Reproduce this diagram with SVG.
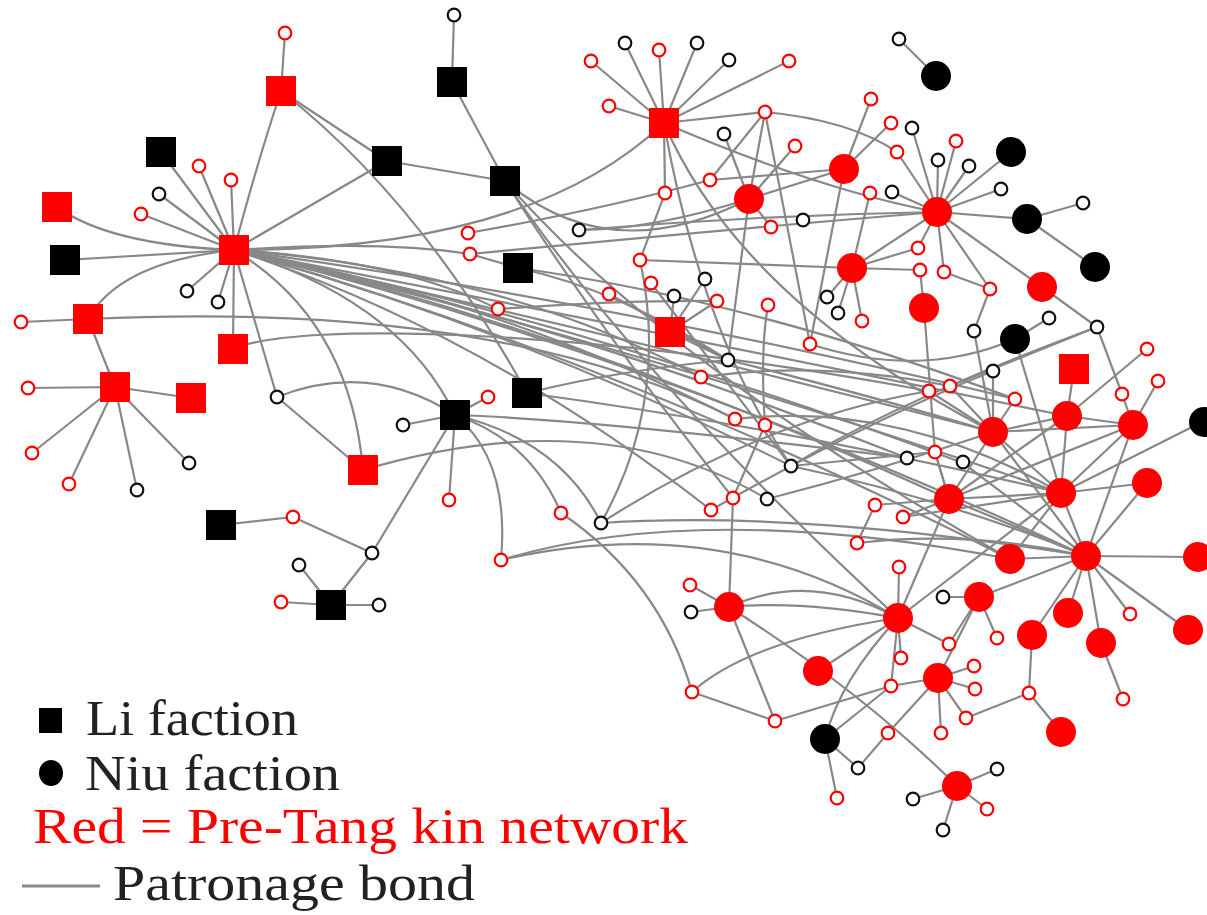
<svg xmlns="http://www.w3.org/2000/svg" width="1207" height="915" viewBox="0 0 1207 915">
<style>
.e{fill:none;stroke:#888;stroke-width:2.2}
.rs{fill:#fff;stroke:#f00;stroke-width:2.2}
.bs{fill:#fff;stroke:#111;stroke-width:2.2}
.R{fill:#f00}
.B{fill:#000}
.t{font-family:"Liberation Serif","Times New Roman",serif;font-size:50px}
</style>
<rect width="1207" height="915" fill="#fff"/>
<g id="connectors" class="e">
<path d="M234 250 Q258 160 281 91"/>
<path d="M234 250 L161 152"/><path d="M234 250 L199 166"/><path d="M234 250 L231 180"/><path d="M234 250 L159 194"/><path d="M234 250 L141 214"/>
<path d="M57 207 Q110 245 234 250"/><path d="M65 260 L234 250"/><path d="M88 319 Q120 262 234 250"/>
<path d="M234 250 L387 161"/><path d="M234 250 L187 291"/><path d="M234 250 L218 302"/><path d="M234 250 L233 349"/><path d="M234 250 L277 397"/>
<path d="M234 250 Q350 320 363 470"/><path d="M234 250 Q400 300 455 415"/>
<path d="M281 91 L285 33"/><path d="M281 91 L387 161"/><path d="M281 91 Q420 200 527 393"/>
<path d="M21 322 L88 319"/><path d="M88 319 L115 387"/><path d="M88 319 Q500 300 735 419"/>
<path d="M28 388 L115 387"/><path d="M115 387 L191 398"/><path d="M115 387 L32 453"/><path d="M115 387 L69 484"/><path d="M115 387 L137 490"/><path d="M115 387 L189 463"/>
<path d="M233 349 C300 320 600 330 929 391"/>
<path d="M277 397 L363 470"/><path d="M277 397 Q370 360 455 415"/>
<path d="M363 470 Q600 400 767 499"/>
<path d="M221 525 L293 517"/><path d="M293 517 L372 553"/><path d="M372 553 L455 415"/>
<path d="M331 605 L372 553"/><path d="M331 605 L299 565"/><path d="M331 605 L281 602"/><path d="M331 605 L379 605"/>
<path d="M403 425 L455 415"/><path d="M455 415 L488 397"/><path d="M455 415 L449 500"/>
<path d="M455 415 Q530 440 561 513"/><path d="M455 415 Q510 460 501 560"/><path d="M455 415 Q560 440 601 523"/><path d="M455 415 Q600 420 907 458"/>
<path d="M454 15 L452 82"/><path d="M452 82 L505 181"/><path d="M387 161 L505 181"/>
<path d="M505 181 Q610 270 749 199"/><path d="M505 181 Q600 330 733 498"/><path d="M505 181 Q640 380 898 618"/><path d="M505 181 Q660 360 1010 559"/>
<path d="M664 123 L591 61"/><path d="M664 123 L625 43"/><path d="M664 123 L659 50"/><path d="M664 123 L697 43"/><path d="M664 123 L729 60"/><path d="M664 123 L789 61"/><path d="M664 123 L609 106"/><path d="M664 123 L765 112"/><path d="M664 123 L665 193"/>
<path d="M664 123 Q530 250 234 250"/><path d="M664 123 Q820 190 937 212"/><path d="M664 123 Q740 300 993 432"/><path d="M664 123 Q700 330 791 466"/>
<path d="M665 193 L640 260"/><path d="M640 260 L852 268"/><path d="M640 260 Q670 400 601 523"/>
<path d="M765 112 L710 180"/><path d="M765 112 L749 199"/><path d="M765 112 Q850 120 897 152"/><path d="M765 112 L810 344"/>
<path d="M710 180 Q600 210 468 233"/><path d="M710 180 L844 169"/>
<path d="M749 199 L795 146"/><path d="M749 199 L724 134"/><path d="M749 199 L771 227"/><path d="M749 199 L844 169"/><path d="M749 199 L728 360"/><path d="M749 199 Q650 230 579 230"/>
<path d="M844 169 L871 99"/><path d="M844 169 L891 123"/><path d="M844 169 L810 344"/>
<path d="M897 152 L937 212"/><path d="M912 128 L937 212"/><path d="M956 141 L937 212"/><path d="M938 160 L937 212"/><path d="M969 166 L937 212"/><path d="M1011 152 L937 212"/><path d="M1001 189 L937 212"/><path d="M892 192 L937 212"/>
<path d="M937 212 L1027 219"/><path d="M1027 219 L1083 203"/><path d="M1027 219 L1095 267"/><path d="M899 39 L936 76"/>
<path d="M937 212 L918 248"/><path d="M937 212 L944 272"/><path d="M937 212 L990 289"/><path d="M937 212 L1042 287"/><path d="M937 212 L852 268"/>
<path d="M937 212 Q720 230 470 254"/><path d="M937 212 Q760 215 579 230"/>
<path d="M870 193 L852 268"/><path d="M852 268 L918 248"/><path d="M852 268 L920 270"/><path d="M852 268 L827 297"/><path d="M852 268 L838 313"/><path d="M852 268 L862 321"/>
<path d="M920 270 L924 308"/><path d="M944 272 L990 289"/><path d="M990 289 L974 331"/><path d="M1042 287 L1097 327"/>
<path d="M1097 327 L1122 394"/><path d="M1097 327 L950 386"/><path d="M1097 327 Q900 400 791 466"/>
<path d="M974 331 L993 432"/><path d="M1015 339 L1049 318"/><path d="M1015 339 L1061 493"/><path d="M810 344 Q920 380 1015 339"/>
<path d="M993 371 L993 432"/><path d="M993 371 Q870 420 711 510"/>
<path d="M929 391 L993 432"/><path d="M950 386 L993 432"/><path d="M1015 399 L993 432"/>
<path d="M993 432 L1067 416"/><path d="M993 432 L1133 425"/><path d="M993 432 L949 499"/><path d="M993 432 L1061 493"/><path d="M993 432 L1086 556"/>
<path d="M1074 369 L1067 416"/><path d="M1147 349 L1067 416"/><path d="M1158 381 L1133 425"/><path d="M1122 394 L1133 425"/>
<path d="M1067 416 L1133 425"/><path d="M1067 416 L1061 493"/><path d="M1067 416 L949 499"/>
<path d="M1133 425 L1061 493"/><path d="M1133 425 L949 499"/><path d="M1133 425 L1086 556"/>
<path d="M1202 422 L1061 493"/><path d="M1061 493 L1147 483"/><path d="M1061 493 L1086 556"/><path d="M1061 493 L1010 559"/><path d="M1061 493 L949 499"/>
<path d="M1147 483 L1086 556"/><path d="M1086 556 L1198 557"/><path d="M1086 556 L1010 559"/><path d="M1086 556 L1068 613"/><path d="M1086 556 L1032 635"/><path d="M1086 556 L1101 643"/><path d="M1086 556 L1130 614"/><path d="M1086 556 L1188 630"/><path d="M1086 556 L979 597"/>
<path d="M1101 643 L1123 699"/><path d="M1032 635 L1029 693"/><path d="M1029 693 L1061 732"/><path d="M1029 693 L966 718"/>
<path d="M949 499 L935 452"/><path d="M949 499 L875 505"/><path d="M949 499 L903 517"/><path d="M949 499 L898 618"/><path d="M949 499 L1086 556"/>
<path d="M875 505 L857 543"/><path d="M899 567 L898 618"/>
<path d="M898 618 L949 644"/><path d="M898 618 L901 658"/><path d="M898 618 L818 671"/><path d="M898 618 L891 686"/>
<path d="M898 618 Q800 600 729 607"/><path d="M898 618 Q810 570 729 607"/><path d="M898 618 Q750 640 692 692"/><path d="M898 618 Q840 680 825 739"/><path d="M898 618 L1061 493"/>
<path d="M979 597 L943 597"/><path d="M979 597 L949 644"/><path d="M979 597 L997 638"/>
<path d="M938 678 L974 666"/><path d="M938 678 L975 689"/><path d="M938 678 L966 718"/><path d="M938 678 L941 733"/><path d="M938 678 L891 686"/><path d="M938 678 L979 597"/>
<path d="M888 733 L938 678"/><path d="M888 733 L858 768"/>
<path d="M692 692 L775 721"/><path d="M775 721 L891 686"/><path d="M775 721 L729 607"/>
<path d="M825 739 L891 686"/><path d="M825 739 L858 768"/><path d="M825 739 L837 798"/>
<path d="M957 786 L997 769"/><path d="M957 786 L913 799"/><path d="M957 786 L987 809"/><path d="M957 786 L943 830"/><path d="M957 786 Q860 690 729 607"/>
<path d="M729 607 L690 585"/><path d="M729 607 L691 612"/><path d="M729 607 L733 498"/>
<path d="M561 513 Q660 580 692 692"/><path d="M501 560 Q700 500 1010 559"/><path d="M501 560 Q720 510 898 618"/>
<path d="M601 523 Q800 510 1086 556"/><path d="M601 523 Q760 420 929 391"/>
<path d="M733 498 L765 425"/><path d="M765 425 Q760 350 768 305"/>
<path d="M234 250 Q500 300 735 419"/><path d="M234 250 Q600 330 993 432"/><path d="M234 250 Q620 340 1061 493"/><path d="M234 250 Q640 350 1086 556"/>
<path d="M234 250 Q580 330 949 499"/><path d="M234 250 Q560 320 907 458"/><path d="M234 250 Q580 320 963 463"/><path d="M234 250 Q520 330 791 466"/>
<path d="M234 250 Q480 330 711 510"/><path d="M234 250 Q500 270 701 377"/><path d="M234 250 Q400 260 498 309"/><path d="M234 250 Q380 240 470 254"/>
<path d="M234 250 Q600 300 1015 399"/><path d="M234 250 Q620 360 1010 559"/><path d="M234 250 Q650 330 1067 416"/>
<path d="M470 254 L518 268"/><path d="M518 268 Q620 290 728 360"/><path d="M518 268 Q750 300 1015 399"/>
<path d="M527 393 Q620 370 728 360"/><path d="M527 393 Q800 430 1061 493"/>
<path d="M498 309 Q620 300 717 301"/><path d="M609 294 L728 360"/><path d="M651 283 L791 466"/>
<path d="M705 279 L670 332"/><path d="M674 296 L670 332"/><path d="M717 301 L670 332"/><path d="M670 332 L728 360"/>
<path d="M728 360 Q850 390 993 432"/><path d="M701 377 Q820 360 950 386"/><path d="M735 419 Q900 400 1061 493"/>
<path d="M791 466 L935 452"/><path d="M791 466 Q950 500 1086 556"/><path d="M767 499 Q880 470 993 432"/>
<path d="M963 463 L1086 556"/><path d="M935 452 L949 499"/><path d="M857 543 Q970 530 1086 556"/><path d="M903 517 L1061 493"/>
<path d="M924 308 L935 452"/>
</g>
<g id="n1"><circle class="rs" cx="285" cy="33" r="6.3"/></g>
<g id="n2"><rect class="R" x="266" y="76" width="30" height="30"/></g>
<g id="n3"><rect class="B" x="146" y="137" width="30" height="30"/></g>
<g id="n4"><circle class="rs" cx="199" cy="166" r="6.3"/></g>
<g id="n5"><circle class="rs" cx="231" cy="180" r="6.3"/></g>
<g id="n6"><circle class="bs" cx="159" cy="194" r="6.3"/></g>
<g id="n7"><circle class="rs" cx="141" cy="214" r="6.3"/></g>
<g id="n8"><rect class="R" x="42" y="192" width="30" height="30"/></g>
<g id="n9"><rect class="B" x="50" y="245" width="30" height="30"/></g>
<g id="h1"><rect class="R" x="219" y="235" width="30" height="30"/></g>
<g id="n10"><rect class="B" x="372" y="146" width="30" height="30"/></g>
<g id="n11"><circle class="bs" cx="187" cy="291" r="6.3"/></g>
<g id="n12"><circle class="bs" cx="218" cy="302" r="6.3"/></g>
<g id="n13"><circle class="rs" cx="21" cy="322" r="6.3"/></g>
<g id="n14"><rect class="R" x="73" y="304" width="30" height="30"/></g>
<g id="n15"><rect class="R" x="218" y="334" width="30" height="30"/></g>
<g id="n16"><circle class="rs" cx="28" cy="388" r="6.3"/></g>
<g id="n17"><rect class="R" x="100" y="372" width="30" height="30"/></g>
<g id="n18"><rect class="R" x="176" y="383" width="30" height="30"/></g>
<g id="n19"><circle class="rs" cx="32" cy="453" r="6.3"/></g>
<g id="n20"><circle class="rs" cx="69" cy="484" r="6.3"/></g>
<g id="n21"><circle class="bs" cx="137" cy="490" r="6.3"/></g>
<g id="n22"><circle class="bs" cx="189" cy="463" r="6.3"/></g>
<g id="n23"><circle class="bs" cx="277" cy="397" r="6.3"/></g>
<g id="n24"><rect class="R" x="348" y="455" width="30" height="30"/></g>
<g id="n25"><rect class="B" x="206" y="510" width="30" height="30"/></g>
<g id="n26"><circle class="rs" cx="293" cy="517" r="6.3"/></g>
<g id="n27"><circle class="bs" cx="372" cy="553" r="6.3"/></g>
<g id="n28"><circle class="bs" cx="299" cy="565" r="6.3"/></g>
<g id="n29"><circle class="rs" cx="281" cy="602" r="6.3"/></g>
<g id="n30"><rect class="B" x="316" y="590" width="30" height="30"/></g>
<g id="n31"><circle class="bs" cx="379" cy="605" r="6.3"/></g>
<g id="n32"><circle class="bs" cx="454" cy="15" r="6.3"/></g>
<g id="n33"><rect class="B" x="437" y="67" width="30" height="30"/></g>
<g id="n34"><rect class="B" x="490" y="166" width="30" height="30"/></g>
<g id="h2"><rect class="R" x="649" y="108" width="30" height="30"/></g>
<g id="n35"><circle class="rs" cx="591" cy="61" r="6.3"/></g>
<g id="n36"><circle class="bs" cx="625" cy="43" r="6.3"/></g>
<g id="n37"><circle class="rs" cx="659" cy="50" r="6.3"/></g>
<g id="n38"><circle class="bs" cx="697" cy="43" r="6.3"/></g>
<g id="n39"><circle class="bs" cx="729" cy="60" r="6.3"/></g>
<g id="n40"><circle class="rs" cx="789" cy="61" r="6.3"/></g>
<g id="n41"><circle class="rs" cx="609" cy="106" r="6.3"/></g>
<g id="n42"><circle class="rs" cx="765" cy="112" r="6.3"/></g>
<g id="n43"><circle class="bs" cx="724" cy="134" r="6.3"/></g>
<g id="n44"><circle class="rs" cx="795" cy="146" r="6.3"/></g>
<g id="n45"><circle class="rs" cx="710" cy="180" r="6.3"/></g>
<g id="n46"><circle class="R" cx="749" cy="199" r="15"/></g>
<g id="n47"><circle class="rs" cx="771" cy="227" r="6.3"/></g>
<g id="n48"><circle class="rs" cx="665" cy="193" r="6.3"/></g>
<g id="n49"><circle class="bs" cx="579" cy="230" r="6.3"/></g>
<g id="n50"><circle class="rs" cx="468" cy="233" r="6.3"/></g>
<g id="n51"><circle class="rs" cx="470" cy="254" r="6.3"/></g>
<g id="n52"><rect class="B" x="503" y="253" width="30" height="30"/></g>
<g id="n53"><circle class="rs" cx="640" cy="260" r="6.3"/></g>
<g id="n54"><circle class="rs" cx="651" cy="283" r="6.3"/></g>
<g id="n55"><circle class="bs" cx="705" cy="279" r="6.3"/></g>
<g id="n56"><circle class="bs" cx="674" cy="296" r="6.3"/></g>
<g id="n57"><circle class="rs" cx="609" cy="294" r="6.3"/></g>
<g id="n58"><circle class="rs" cx="717" cy="301" r="6.3"/></g>
<g id="n59"><circle class="rs" cx="768" cy="305" r="6.3"/></g>
<g id="n60"><circle class="rs" cx="498" cy="309" r="6.3"/></g>
<g id="n61"><rect class="R" x="655" y="317" width="30" height="30"/></g>
<g id="n62"><circle class="bs" cx="728" cy="360" r="6.3"/></g>
<g id="n63"><circle class="rs" cx="701" cy="377" r="6.3"/></g>
<g id="n64"><rect class="B" x="512" y="378" width="30" height="30"/></g>
<g id="n65"><rect class="B" x="440" y="400" width="30" height="30"/></g>
<g id="n66"><circle class="rs" cx="488" cy="397" r="6.3"/></g>
<g id="n67"><circle class="bs" cx="403" cy="425" r="6.3"/></g>
<g id="n68"><circle class="rs" cx="735" cy="419" r="6.3"/></g>
<g id="n69"><circle class="rs" cx="765" cy="425" r="6.3"/></g>
<g id="n70"><circle class="bs" cx="791" cy="466" r="6.3"/></g>
<g id="n71"><circle class="bs" cx="767" cy="499" r="6.3"/></g>
<g id="n72"><circle class="rs" cx="733" cy="498" r="6.3"/></g>
<g id="n73"><circle class="rs" cx="711" cy="510" r="6.3"/></g>
<g id="n74"><circle class="rs" cx="449" cy="500" r="6.3"/></g>
<g id="n75"><circle class="rs" cx="561" cy="513" r="6.3"/></g>
<g id="n76"><circle class="bs" cx="601" cy="523" r="6.3"/></g>
<g id="n77"><circle class="rs" cx="501" cy="560" r="6.3"/></g>
<g id="n78"><circle class="bs" cx="803" cy="220" r="6.3"/></g>
<g id="n79"><circle class="bs" cx="899" cy="39" r="6.3"/></g>
<g id="n80"><circle class="B" cx="936" cy="76" r="15"/></g>
<g id="n81"><circle class="rs" cx="871" cy="99" r="6.3"/></g>
<g id="n82"><circle class="rs" cx="891" cy="123" r="6.3"/></g>
<g id="n83"><circle class="bs" cx="912" cy="128" r="6.3"/></g>
<g id="n84"><circle class="rs" cx="897" cy="152" r="6.3"/></g>
<g id="n85"><circle class="rs" cx="956" cy="141" r="6.3"/></g>
<g id="n86"><circle class="bs" cx="938" cy="160" r="6.3"/></g>
<g id="n87"><circle class="bs" cx="969" cy="166" r="6.3"/></g>
<g id="n88"><circle class="B" cx="1011" cy="152" r="15"/></g>
<g id="n89"><circle class="bs" cx="1001" cy="189" r="6.3"/></g>
<g id="n90"><circle class="R" cx="844" cy="169" r="15"/></g>
<g id="n91"><circle class="rs" cx="870" cy="193" r="6.3"/></g>
<g id="n92"><circle class="bs" cx="892" cy="192" r="6.3"/></g>
<g id="h3"><circle class="R" cx="937" cy="212" r="15"/></g>
<g id="n93"><circle class="B" cx="1027" cy="219" r="15"/></g>
<g id="n94"><circle class="bs" cx="1083" cy="203" r="6.3"/></g>
<g id="n95"><circle class="B" cx="1095" cy="267" r="15"/></g>
<g id="n96"><circle class="R" cx="852" cy="268" r="15"/></g>
<g id="n97"><circle class="rs" cx="918" cy="248" r="6.3"/></g>
<g id="n98"><circle class="rs" cx="920" cy="270" r="6.3"/></g>
<g id="n99"><circle class="rs" cx="944" cy="272" r="6.3"/></g>
<g id="n100"><circle class="rs" cx="990" cy="289" r="6.3"/></g>
<g id="n101"><circle class="R" cx="1042" cy="287" r="15"/></g>
<g id="n102"><circle class="R" cx="924" cy="308" r="15"/></g>
<g id="n103"><circle class="bs" cx="827" cy="297" r="6.3"/></g>
<g id="n104"><circle class="bs" cx="838" cy="313" r="6.3"/></g>
<g id="n105"><circle class="rs" cx="862" cy="321" r="6.3"/></g>
<g id="n106"><circle class="rs" cx="810" cy="344" r="6.3"/></g>
<g id="n107"><circle class="bs" cx="974" cy="331" r="6.3"/></g>
<g id="n108"><circle class="B" cx="1015" cy="339" r="15"/></g>
<g id="n109"><circle class="bs" cx="1049" cy="318" r="6.3"/></g>
<g id="n110"><circle class="bs" cx="1097" cy="327" r="6.3"/></g>
<g id="n111"><circle class="bs" cx="993" cy="371" r="6.3"/></g>
<g id="n112"><rect class="R" x="1059" y="354" width="30" height="30"/></g>
<g id="n113"><circle class="rs" cx="1147" cy="349" r="6.3"/></g>
<g id="n114"><circle class="rs" cx="1158" cy="381" r="6.3"/></g>
<g id="n115"><circle class="rs" cx="929" cy="391" r="6.3"/></g>
<g id="n116"><circle class="rs" cx="950" cy="386" r="6.3"/></g>
<g id="n117"><circle class="rs" cx="1015" cy="399" r="6.3"/></g>
<g id="n118"><circle class="rs" cx="1122" cy="394" r="6.3"/></g>
<g id="h4"><circle class="R" cx="993" cy="432" r="15"/></g>
<g id="n119"><circle class="R" cx="1067" cy="416" r="15"/></g>
<g id="n120"><circle class="R" cx="1133" cy="425" r="15"/></g>
<g id="n121"><circle class="B" cx="1204" cy="422" r="15"/></g>
<g id="n122"><circle class="bs" cx="907" cy="458" r="6.3"/></g>
<g id="n123"><circle class="rs" cx="935" cy="452" r="6.3"/></g>
<g id="n124"><circle class="bs" cx="963" cy="462" r="6.3"/></g>
<g id="n125"><circle class="R" cx="949" cy="499" r="15"/></g>
<g id="h5"><circle class="R" cx="1061" cy="493" r="15"/></g>
<g id="n126"><circle class="R" cx="1147" cy="483" r="15"/></g>
<g id="n127"><circle class="rs" cx="875" cy="505" r="6.3"/></g>
<g id="n128"><circle class="rs" cx="903" cy="517" r="6.3"/></g>
<g id="n129"><circle class="rs" cx="899" cy="567" r="6.3"/></g>
<g id="n130"><circle class="R" cx="1010" cy="559" r="15"/></g>
<g id="h6"><circle class="R" cx="1086" cy="556" r="15"/></g>
<g id="n131"><circle class="R" cx="1198" cy="557" r="15"/></g>
<g id="n132"><circle class="rs" cx="857" cy="543" r="6.3"/></g>
<g id="n133"><circle class="bs" cx="943" cy="597" r="6.3"/></g>
<g id="n134"><circle class="R" cx="979" cy="597" r="15"/></g>
<g id="h7"><circle class="R" cx="898" cy="618" r="15"/></g>
<g id="n136"><circle class="R" cx="1068" cy="613" r="15"/></g>
<g id="n137"><circle class="rs" cx="1130" cy="614" r="6.3"/></g>
<g id="n138"><circle class="R" cx="1032" cy="635" r="15"/></g>
<g id="n139"><circle class="R" cx="1101" cy="643" r="15"/></g>
<g id="n140"><circle class="R" cx="1188" cy="630" r="15"/></g>
<g id="n141"><circle class="rs" cx="949" cy="644" r="6.3"/></g>
<g id="n142"><circle class="rs" cx="997" cy="638" r="6.3"/></g>
<g id="n143"><circle class="rs" cx="901" cy="658" r="6.3"/></g>
<g id="n144"><circle class="R" cx="818" cy="671" r="15"/></g>
<g id="n145"><circle class="rs" cx="891" cy="686" r="6.3"/></g>
<g id="n146"><circle class="R" cx="938" cy="678" r="15"/></g>
<g id="n147"><circle class="rs" cx="974" cy="666" r="6.3"/></g>
<g id="n148"><circle class="rs" cx="975" cy="689" r="6.3"/></g>
<g id="n149"><circle class="rs" cx="966" cy="718" r="6.3"/></g>
<g id="n150"><circle class="rs" cx="941" cy="733" r="6.3"/></g>
<g id="n151"><circle class="rs" cx="888" cy="733" r="6.3"/></g>
<g id="n152"><circle class="rs" cx="1029" cy="693" r="6.3"/></g>
<g id="n153"><circle class="R" cx="1061" cy="732" r="15"/></g>
<g id="n154"><circle class="rs" cx="1123" cy="699" r="6.3"/></g>
<g id="n155"><circle class="rs" cx="692" cy="692" r="6.3"/></g>
<g id="n156"><circle class="rs" cx="775" cy="721" r="6.3"/></g>
<g id="n157"><circle class="B" cx="825" cy="739" r="15"/></g>
<g id="n158"><circle class="bs" cx="858" cy="768" r="6.3"/></g>
<g id="n159"><circle class="rs" cx="837" cy="798" r="6.3"/></g>
<g id="n160"><circle class="R" cx="957" cy="786" r="15"/></g>
<g id="n161"><circle class="bs" cx="997" cy="769" r="6.3"/></g>
<g id="n162"><circle class="bs" cx="913" cy="799" r="6.3"/></g>
<g id="n163"><circle class="rs" cx="987" cy="809" r="6.3"/></g>
<g id="n164"><circle class="bs" cx="943" cy="830" r="6.3"/></g>
<g id="n165"><circle class="rs" cx="690" cy="585" r="6.3"/></g>
<g id="n166"><circle class="bs" cx="691" cy="612" r="6.3"/></g>
<g id="n167"><circle class="R" cx="729" cy="607" r="15"/></g>
<g id="legend">
<rect x="39" y="708" width="23" height="25" fill="#000"/>
<text class="t" x="86" y="735" fill="#222" textLength="212" lengthAdjust="spacingAndGlyphs">Li faction</text>
<ellipse cx="51" cy="773" rx="12" ry="13" fill="#000"/>
<text class="t" x="85" y="790" fill="#222" textLength="255" lengthAdjust="spacingAndGlyphs">Niu faction</text>
<text class="t" x="33" y="843" fill="#f00" textLength="655" lengthAdjust="spacingAndGlyphs">Red = Pre-Tang kin network</text>
<line x1="22" y1="886" x2="100" y2="886" stroke="#888" stroke-width="3"/>
<text class="t" x="113" y="900" fill="#222" textLength="362" lengthAdjust="spacingAndGlyphs">Patronage bond</text>
</g>
</svg>
